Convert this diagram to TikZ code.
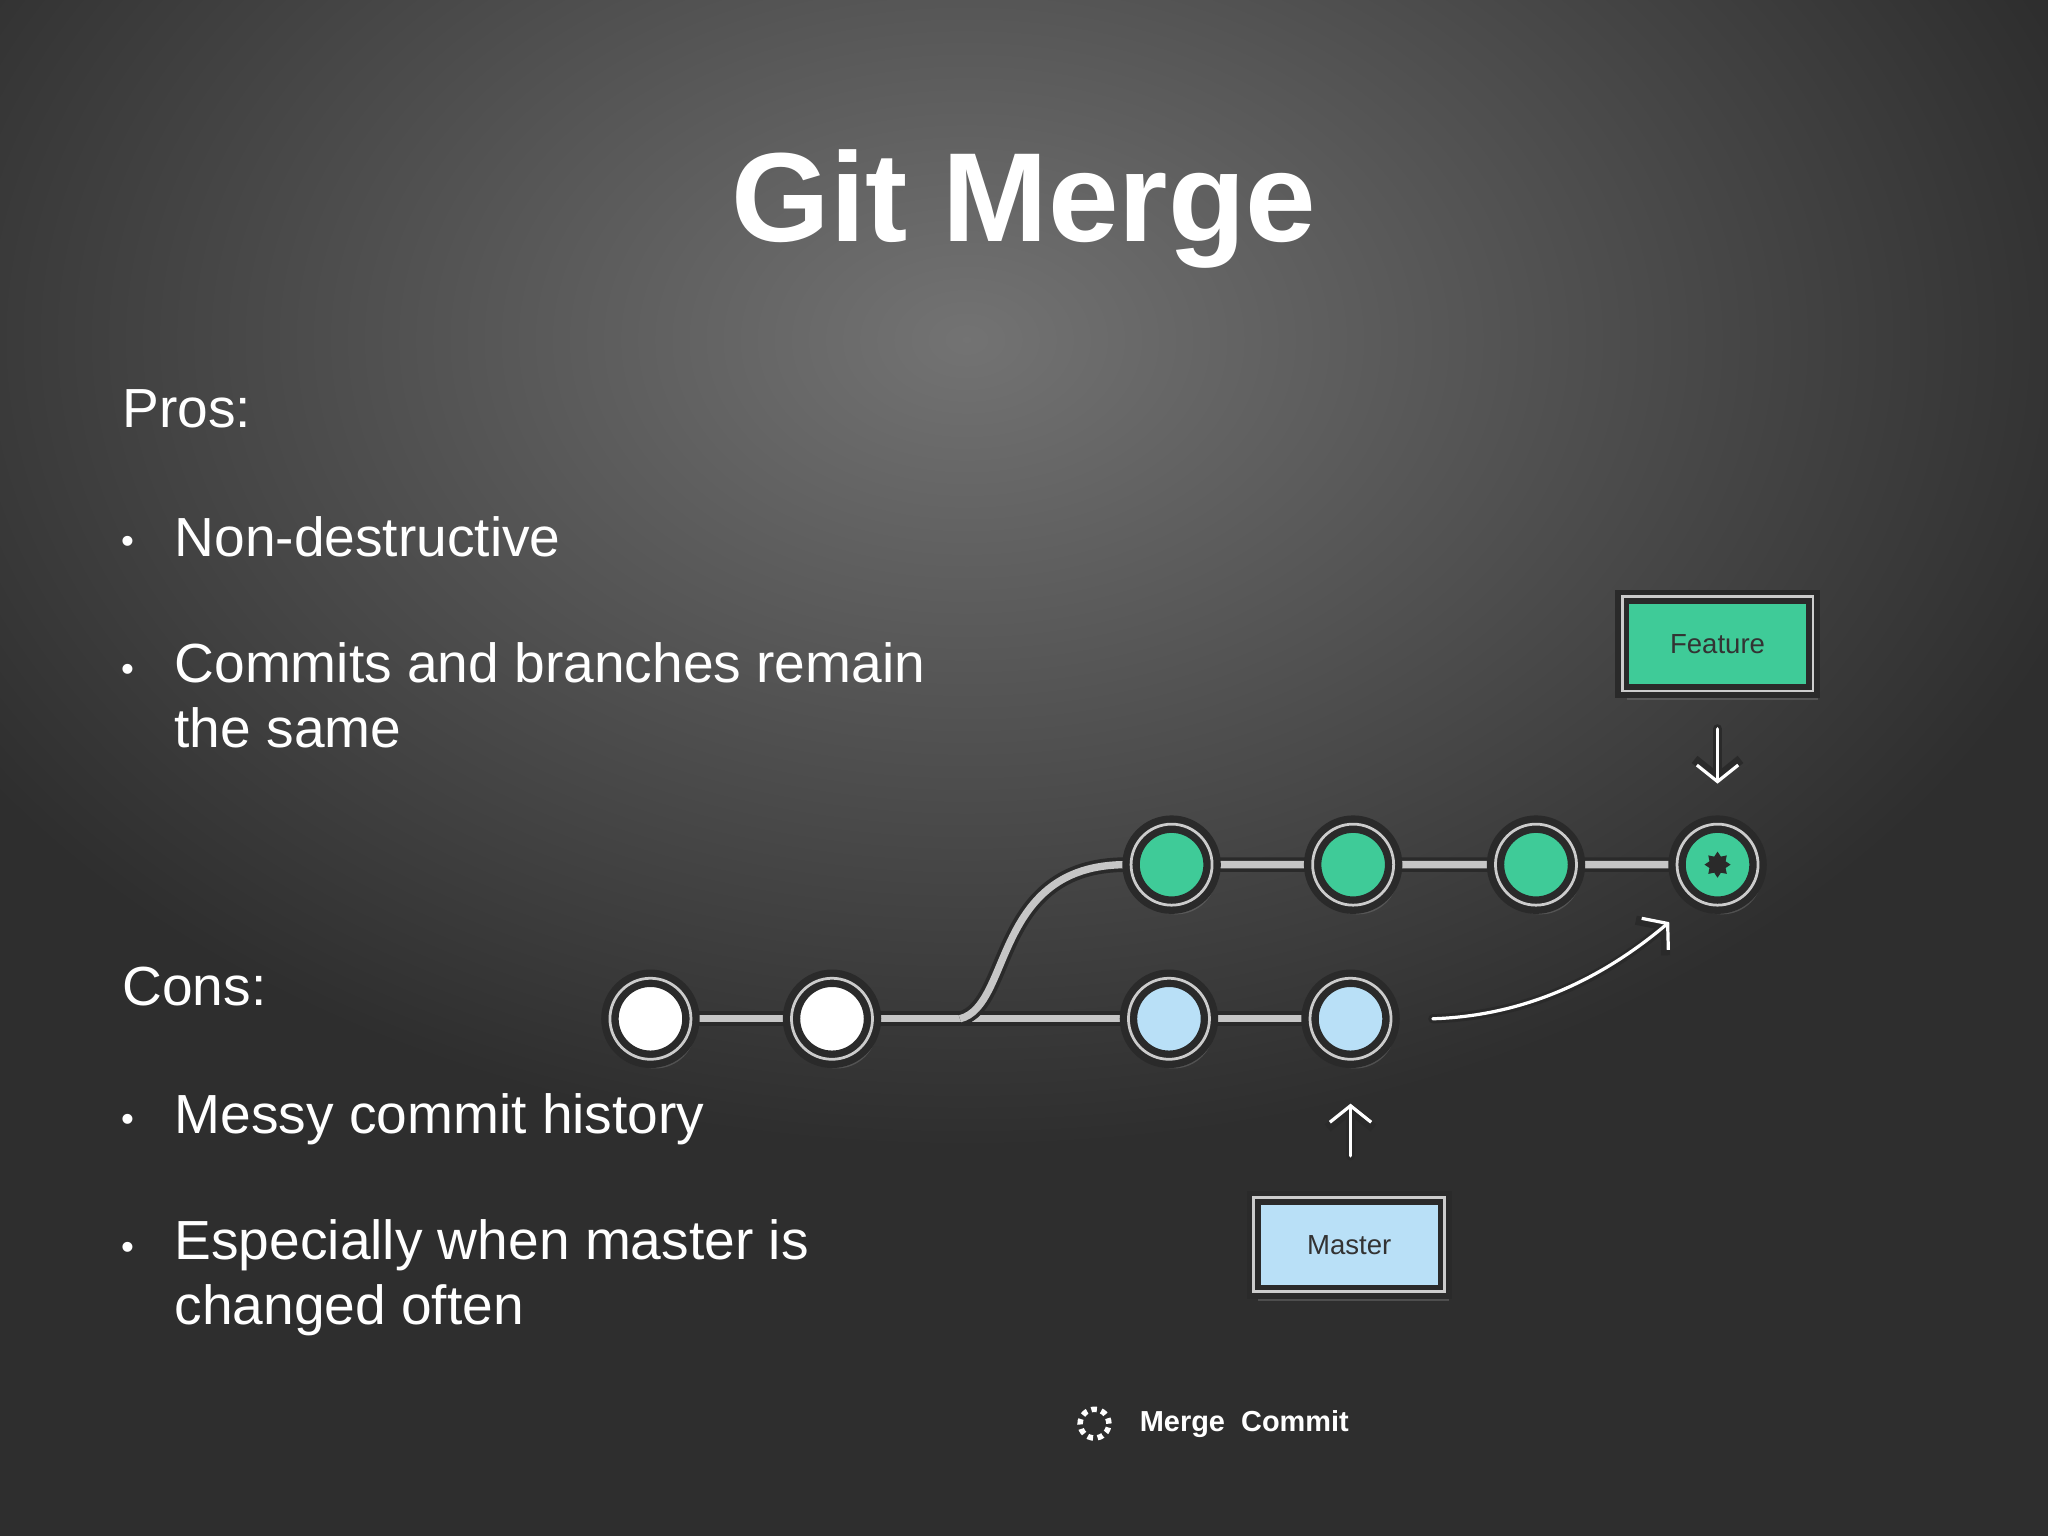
\documentclass[tikz,border=0pt]{standalone}
\usepackage{fontspec}
\setmainfont{Liberation Sans}
\usetikzlibrary{arrows.meta,shadows,shapes.geometric}
\definecolor{fgreen}{HTML}{3FCB98}
\definecolor{mblue}{HTML}{B9E0F7}
\definecolor{edge}{HTML}{2A2A2A}
\begin{document}
\begin{tikzpicture}[x=0.01cm,y=-0.01cm,
  commit/.style={circle,minimum size=0.62cm,inner sep=0,draw=edge,line width=1.6pt,
     double=gray!40,double distance=0.6pt,drop shadow={opacity=0.4,shadow xshift=1pt,shadow yshift=-2pt}},
  link/.style={draw=edge,line width=0.8pt,double=gray!45,double distance=1.6pt},
  label/.style={draw=edge,line width=1.2pt,double=gray!40,double distance=0.6pt,
     minimum width=1.46cm,minimum height=0.72cm,font=\fontsize{6}{7}\selectfont,text=black!80,
     drop shadow={opacity=0.4,shadow xshift=1pt,shadow yshift=-2pt}},
  pointerbg/.style={draw=edge,line width=2pt,line cap=round,-{Straight Barb[length=4pt,width=10pt,line width=2pt]}},
  pointerfg/.style={draw=white,line width=0.7pt,line cap=round,-{Straight Barb[length=3.6pt,width=9pt,line width=0.7pt]}},
  body/.style={anchor=base west,inner sep=0,text=white,font=\fontsize{12}{14.2}\selectfont,align=left},
  dot/.style={anchor=base west,inner sep=0,text=white,font=\fontsize{8}{10}\selectfont}]
\useasboundingbox (0,0) rectangle (1568,1176);
\fill[black!82] (0,0) rectangle (1568,1176);
\begin{scope}
\clip (0,0) rectangle (1568,1176);
\shade[inner color=black!55,outer color=black!82] (740,260) ellipse (900 and 620);
\end{scope}
% title
\node[text=white,font=\bfseries\fontsize{27.6}{33}\selectfont] (title) at (784,160) {Git Merge};
% text
\node[body] (pros) at (93,327) {Pros:};
\node[dot] (b1d) at (92,424) {•};
\node[body] (b1) at (133,426) {Non-destructive};
\node[dot] (b2d) at (92,522) {•};
\node[body,anchor=north west] (b2) at (133,491) {Commits and branches remain\\the same};
\node[body] (cons) at (93,770) {Cons:};
\node[dot] (b3d) at (92,866) {•};
\node[body] (b3) at (133,868) {Messy commit history};
\node[dot] (b4d) at (92,964) {•};
\node[body,anchor=north west] (b4) at (133,933) {Especially when master is\\changed often};
% links
\coordinate (fork) at (735,780);
\path[link] (498,780) -- (1034,780);
\path[link] (fork) .. controls (775,770) and (760,662) .. (862,662) -- (1315,662);
% commits
\node[commit,fill=white] (w1) at (498,780) {};
\node[commit,fill=white] (w2) at (637,780) {};
\node[commit,fill=mblue] (m1) at (895,780) {};
\node[commit,fill=mblue] (m2) at (1034,780) {};
\node[commit,fill=fgreen] (f1) at (897,662) {};
\node[commit,fill=fgreen] (f2) at (1036,662) {};
\node[commit,fill=fgreen] (f3) at (1176,662) {};
\node[commit,fill=fgreen] (f4) at (1315,662) {};
\node[star,star points=8,fill=edge,inner sep=0,minimum size=0.2cm] (mstar) at (f4) {};
% labels
\node[label,fill=fgreen] (feat) at (1315,493) {Feature};
\node[label,fill=mblue] (mast) at (1033,953) {Master};
% arrows
\coordinate (fa) at (1315,558);
\coordinate (fb) at (1315,600);
\coordinate (ma) at (1034,885);
\coordinate (mb) at (1034,845);
\coordinate (cs) at (1097,780);
\coordinate (ce) at (1278,706);
\foreach \s in {pointerbg,pointerfg}{
  \draw[\s] (fa) -- (fb);
  \draw[\s] (ma) -- (mb);
  \draw[\s] (cs) .. controls (1160,778) and (1220,755) .. (ce);
}
% legend
\node[circle,draw=white,dash pattern=on 1.2pt off 1pt,line width=1.2pt,minimum size=0.22cm,inner sep=0] (lg) at (838,1090) {};
\node[anchor=west,inner sep=0,text=white,font=\bfseries\fontsize{6.3}{8}\selectfont] (lgt) at (872,1090) {Merge\ \ Commit};
\end{tikzpicture}
\end{document}
